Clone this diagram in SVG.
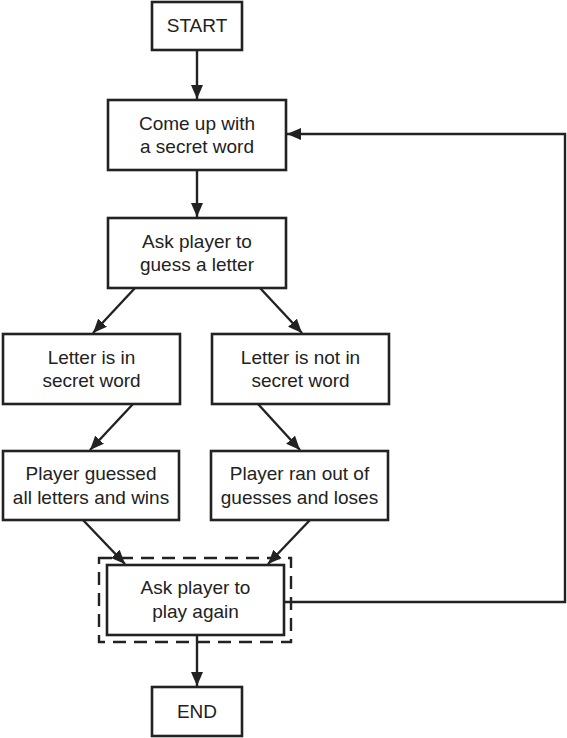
<svg xmlns="http://www.w3.org/2000/svg" width="567" height="738" viewBox="0 0 567 738">
<style>
.box{fill:#fff;stroke:#222;stroke-width:2.6}
.dash{fill:none;stroke:#222;stroke-width:2.4;stroke-dasharray:13 8}
.t{font-family:"Liberation Sans",Arial,sans-serif;font-size:19px;fill:#222;text-anchor:middle}
.c{fill:none;stroke:#222;stroke-width:2.4}
</style>
<defs>
<marker id="ah" markerUnits="userSpaceOnUse" markerWidth="16" markerHeight="12" refX="14" refY="6" orient="auto">
<path d="M0,0 L14,6 L0,12 Z" fill="#222"/>
</marker>
</defs>
<g id="connectors">
<line class="c" x1="197" y1="50" x2="197" y2="99" marker-end="url(#ah)"/>
<line class="c" x1="197" y1="170" x2="197" y2="217" marker-end="url(#ah)"/>
<line class="c" x1="135" y1="288" x2="93" y2="333" marker-end="url(#ah)"/>
<line class="c" x1="260" y1="288" x2="302" y2="333" marker-end="url(#ah)"/>
<line class="c" x1="133" y1="404" x2="90" y2="450" marker-end="url(#ah)"/>
<line class="c" x1="258" y1="404" x2="300" y2="450" marker-end="url(#ah)"/>
<line class="c" x1="83" y1="520" x2="125" y2="564" marker-end="url(#ah)"/>
<line class="c" x1="310" y1="520" x2="268" y2="564" marker-end="url(#ah)"/>
<line class="c" x1="197" y1="635" x2="197" y2="686" marker-end="url(#ah)"/>
<polyline class="c" points="284,602 565,602 565,134 287,134" marker-end="url(#ah)"/>
</g>
<g id="start"><rect class="box" x="152" y="2" width="90" height="48"/><text class="t" x="197" y="31.5">START</text></g>
<g id="secret"><rect class="box" x="108" y="100" width="178" height="70"/><text class="t" x="197" y="129.5">Come up with</text><text class="t" x="197" y="153">a secret word</text></g>
<g id="guess"><rect class="box" x="108" y="218" width="178" height="70"/><text class="t" x="197" y="247.5">Ask player to</text><text class="t" x="197" y="271">guess a letter</text></g>
<g id="in-word"><rect class="box" x="3" y="334" width="177" height="70"/><text class="t" x="91.5" y="363.5">Letter is in</text><text class="t" x="91.5" y="387">secret word</text></g>
<g id="not-in-word"><rect class="box" x="212" y="334" width="177" height="70"/><text class="t" x="300.5" y="363.5">Letter is not in</text><text class="t" x="300.5" y="387">secret word</text></g>
<g id="wins"><rect class="box" x="3" y="451" width="176" height="69"/><text class="t" x="91" y="480">Player guessed</text><text class="t" x="91" y="503.5">all letters and wins</text></g>
<g id="loses"><rect class="box" x="211" y="451" width="177" height="69"/><text class="t" x="299.5" y="480">Player ran out of</text><text class="t" x="299.5" y="503.5">guesses and loses</text></g>
<g id="again"><rect class="dash" x="99" y="558" width="192" height="84"/><rect class="box" x="107" y="565" width="177" height="70"/><text class="t" x="195.5" y="594">Ask player to</text><text class="t" x="195.5" y="617.5">play again</text></g>
<g id="end"><rect class="box" x="152" y="687" width="90" height="49"/><text class="t" x="197" y="718">END</text></g>
</svg>
